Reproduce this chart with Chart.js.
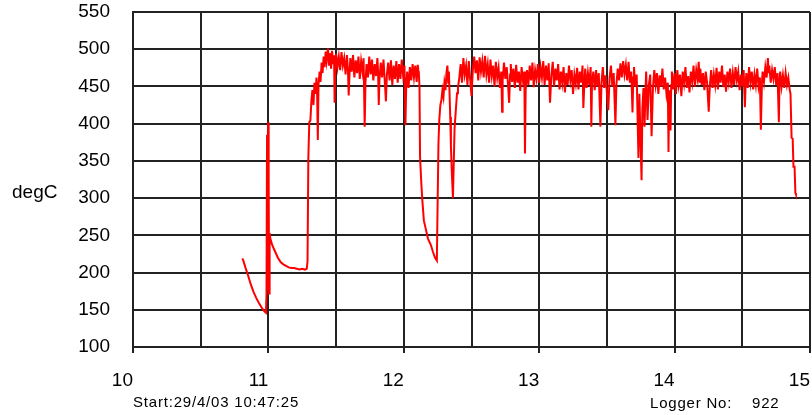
<!DOCTYPE html>
<html>
<head>
<meta charset="utf-8">
<script src="https://cdn.jsdelivr.net/npm/chart.js@4.4.1/dist/chart.umd.min.js"></script>
<style>
  html, body { margin: 0; padding: 0; background: #fff; }
  #wrap { position: relative; width: 812px; height: 415px; }
</style>
</head>
<body>
<div id="wrap"><canvas id="chart"></canvas></div>
<script>
// logger trace, time in hours vs temperature in degC
const hours = [
  10.807, 10.815, 10.83, 10.85, 10.87, 10.89, 10.91, 10.93, 10.95, 10.97,
  10.982, 10.986, 10.99, 10.994, 10.998, 11.002, 11.005, 11.009, 11.015, 11.03,
  11.05, 11.07, 11.09, 11.11, 11.13, 11.15, 11.17, 11.19, 11.21, 11.23,
  11.25, 11.27, 11.283, 11.289, 11.295, 11.302, 11.31, 11.318,
  11.325, 11.333, 11.34, 11.348, 11.355, 11.36, 11.365, 11.37, 11.378, 11.385,
  11.393, 11.40, 11.408, 11.415, 11.423, 11.43, 11.44, 11.448, 11.455, 11.463,
  11.47, 11.478, 11.485, 11.489, 11.493, 11.50, 11.51, 11.52, 11.53, 11.54,
  11.55, 11.56, 11.57, 11.58, 11.588, 11.593, 11.598, 11.605, 11.615, 11.625,
  11.635, 11.645, 11.655, 11.665, 11.675, 11.685, 11.695, 11.703, 11.711, 11.717,
  11.725, 11.735, 11.745, 11.755, 11.765, 11.775, 11.785, 11.795, 11.805, 11.81,
  11.815, 11.82, 11.83, 11.84, 11.85, 11.86, 11.868, 11.875, 11.885, 11.895,
  11.905, 11.915, 11.925, 11.935, 11.945, 11.955, 11.965, 11.975, 11.985, 11.995,
  12.005, 12.012, 12.018, 12.025, 12.035, 12.045, 12.055, 12.065, 12.075, 12.085,
  12.095, 12.103, 12.108,
  12.111, 12.116, 12.12, 12.13, 12.137, 12.148, 12.163, 12.178, 12.2, 12.215,
  12.23, 12.244, 12.256, 12.262, 12.27, 12.278, 12.285, 12.293, 12.30, 12.308,
  12.315, 12.322, 12.328, 12.333, 12.338, 12.343, 12.348, 12.355, 12.363, 12.368,
  12.375, 12.385, 12.393, 12.40,
  12.41, 12.42, 12.43, 12.44, 12.45, 12.46, 12.47, 12.48, 12.49, 12.50,
  12.51, 12.52, 12.53, 12.54, 12.55, 12.56, 12.57, 12.58, 12.59, 12.60,
  12.61, 12.62, 12.63, 12.64, 12.65, 12.66, 12.67, 12.68, 12.69, 12.70,
  12.71, 12.72, 12.726, 12.73, 12.74, 12.75, 12.76, 12.77, 12.778, 12.785,
  12.79, 12.80, 12.81, 12.82, 12.83, 12.84, 12.85, 12.86, 12.87, 12.88,
  12.89, 12.895, 12.90, 12.91, 12.92, 12.93, 12.94, 12.95, 12.96, 12.97,
  12.98, 12.99, 13.00, 13.01, 13.02, 13.03, 13.04, 13.05, 13.06, 13.07,
  13.08, 13.09, 13.10, 13.11, 13.12, 13.13, 13.14, 13.15, 13.16, 13.17,
  13.18, 13.19, 13.20, 13.21, 13.22, 13.23, 13.24, 13.25, 13.26, 13.27,
  13.28, 13.29, 13.30, 13.31, 13.32, 13.326, 13.335, 13.34, 13.35, 13.36,
  13.37, 13.38, 13.385, 13.39, 13.40, 13.41, 13.42, 13.43, 13.44, 13.452,
  13.46, 13.47, 13.48, 13.49, 13.50, 13.51, 13.52, 13.53, 13.54, 13.55,
  13.563, 13.57, 13.58, 13.59, 13.60, 13.61, 13.62, 13.63, 13.64, 13.65,
  13.66, 13.67, 13.68, 13.689, 13.695, 13.70, 13.71, 13.72, 13.733, 13.74,
  13.748, 13.756, 13.762, 13.77, 13.778, 13.785, 13.79, 13.80, 13.81, 13.82,
  13.83, 13.84, 13.85, 13.86, 13.87, 13.88, 13.89, 13.90, 13.91, 13.92,
  13.93, 13.94, 13.95, 13.955, 13.96, 13.97, 13.975, 13.98, 13.99, 14.00,
  14.01, 14.02, 14.03, 14.04, 14.05, 14.06, 14.07, 14.08, 14.09, 14.10,
  14.11, 14.12, 14.13, 14.14, 14.15, 14.16, 14.17, 14.178, 14.185, 14.19,
  14.20, 14.21, 14.22, 14.23, 14.24, 14.252, 14.26, 14.27, 14.28, 14.29,
  14.30, 14.31, 14.32, 14.33, 14.34, 14.35, 14.36, 14.37, 14.38, 14.39,
  14.40, 14.41, 14.42, 14.43, 14.44, 14.45, 14.46, 14.47, 14.48, 14.49,
  14.50, 14.51, 14.519, 14.525, 14.53, 14.54, 14.55, 14.56, 14.57, 14.58,
  14.59, 14.60, 14.61, 14.62, 14.63, 14.637, 14.645, 14.65, 14.66, 14.67,
  14.68, 14.689, 14.695, 14.70, 14.71, 14.72, 14.73, 14.74, 14.75, 14.76,
  14.77, 14.775, 14.78, 14.79, 14.80, 14.81, 14.82, 14.83, 14.84, 14.85,
  14.856, 14.864, 14.872, 14.878, 14.886, 14.892, 14.896
];

const degC = [
  219, 216, 207, 196, 184, 174, 166, 159, 153, 148,
  146, 172, 385, 176, 402, 328, 172, 253, 245, 236,
  228, 220, 214, 211, 209, 207, 206, 206, 205, 204,
  205, 204, 205, 215, 354, 402, 404, 432,
  445, 425, 455, 440, 462, 438, 378, 452, 470, 456,
  482, 468, 490, 476, 497, 484, 501, 478, 495, 474,
  498, 480, 492, 428, 470, 494, 476, 490, 472, 496,
  478, 488, 466, 492, 470, 438, 462, 488, 470, 492,
  462, 485, 468, 490, 460, 484, 470, 488, 396, 455,
  480, 462, 490, 466, 486, 458, 480, 464, 488, 470,
  425, 458, 482, 462, 486, 455, 430, 466, 482, 458,
  485, 452, 478, 460, 484, 455, 480, 460, 486, 465,
  478, 398, 452, 470, 448, 476, 458, 480, 462, 478,
  456, 479, 470,
  468, 449, 355, 318, 297, 270, 258, 246, 237, 228,
  220, 216, 374, 405, 425, 432, 445, 436, 455, 445,
  468, 478, 455, 470, 440, 409, 370, 333, 300, 340,
  394, 420, 441, 448,
  462, 480, 455, 488, 466, 478, 452, 484, 460, 437,
  472, 490, 468, 485, 458, 489, 470, 484, 462, 491,
  466, 480, 455, 486, 464, 478, 450, 483, 462, 475,
  448, 470, 416, 458, 482, 460, 476, 452, 428, 466,
  480, 456, 474, 448, 479, 455, 470, 444, 476, 458,
  470, 360, 445, 472, 452, 478, 458, 482, 449, 472,
  460, 480, 455, 476, 462, 484, 452, 478, 458, 481,
  428, 465, 483, 450, 474, 458, 480, 446, 470, 455,
  476, 442, 468, 452, 478, 458, 472, 440, 466, 454,
  475, 446, 470, 455, 478, 421, 460, 474, 448, 468,
  452, 476, 396, 455, 470, 445, 472, 450, 468, 396,
  455, 476, 448, 465, 442, 418, 462, 478, 450, 468,
  398, 452, 474, 458, 481, 462, 484, 466, 479, 458,
  483, 455, 470, 415, 462, 476, 450, 466, 354, 440,
  380, 324, 420, 448, 396, 445, 470, 405, 452, 466,
  383, 448, 472, 452, 468, 440, 465, 450, 474, 446,
  462, 440, 455, 362, 445, 391, 452, 470, 446, 468,
  440, 472, 452, 466, 437, 470, 455, 476, 448, 464,
  442, 470, 456, 478, 450, 472, 460, 483, 455, 474,
  452, 468, 445, 470, 455, 416, 450, 472, 448, 466,
  452, 475, 446, 470, 455, 478, 449, 466, 443, 470,
  456, 474, 448, 468, 452, 476, 458, 470, 445, 466,
  450, 472, 422, 455, 468, 448, 476, 455, 470, 446,
  466, 452, 474, 450, 462, 392, 455, 470, 456, 476,
  462, 488, 468, 478, 455, 472, 460, 476, 452, 468,
  402, 458, 470, 450, 465, 448, 468, 452, 462, 446,
  440, 381, 380, 342, 342, 307, 305
];

const xTicks = [10, 11, 12, 13, 14, 15];
const yTicks = [100, 150, 200, 250, 300, 350, 400, 450, 500, 550];
const yTitle = 'degC';
const startText = 'Start:29/4/03 10:47:25';
const loggerLabel = 'Logger No:';
const loggerNo = '922';

const FONT = "'Liberation Sans', Arial, sans-serif";
const GRID = '#222';

const points = hours.map((h, i) => ({ x: h, y: degC[i] }));

// extra captions drawn straight on the canvas
const captions = {
  id: 'captions',
  afterDraw(chart) {
    const ctx = chart.ctx;
    ctx.save();
    ctx.fillStyle = '#000';
    ctx.textBaseline = 'middle';
    ctx.textAlign = 'left';
    ctx.font = '19px ' + FONT;
    ctx.fillText(yTitle, 12, 193);
    ctx.font = '15px ' + FONT;
    ctx.letterSpacing = '0.8px';
    ctx.fillText(startText, 133, 403);
    ctx.fillText(loggerLabel, 650, 404);
    ctx.fillText(loggerNo, 752, 404);
    ctx.restore();
  }
};

new Chart(document.getElementById('chart'), {
  type: 'line',
  data: {
    datasets: [{
      data: points,
      borderColor: '#ff0000',
      borderWidth: 2,
      pointRadius: 0,
      tension: 0,
      fill: false
    }]
  },
  options: {
    responsive: true,
    maintainAspectRatio: false,
    animation: false,
    events: [],
    layout: { padding: { top: 12, right: 2, left: 0, bottom: 0 } },
    plugins: {
      legend: { display: false },
      tooltip: { enabled: false }
    },
    scales: {
      x: {
        type: 'linear',
        min: 10,
        max: 15,
        afterFit: s => { s.height = 68; s.paddingLeft = 0; s.paddingRight = 0; },
        border: { color: GRID, width: 2 },
        grid: {
          color: GRID,
          lineWidth: 2,
          tickLength: 6,
          tickColor: c => (c.tick && xTicks.includes(c.tick.value)) ? GRID : 'rgba(0,0,0,0)'
        },
        ticks: {
          stepSize: 0.5,
          autoSkip: false,
          maxRotation: 0,
          align: 'end',
          padding: 16,
          color: '#000',
          font: { family: FONT, size: 19 },
          callback: v => xTicks.includes(v) ? String(v) : ''
        }
      },
      y: {
        min: 100,
        max: 550,
        afterFit: s => { s.width = 133; s.paddingTop = 0; s.paddingBottom = 0; },
        border: { color: GRID, width: 2 },
        grid: { color: GRID, lineWidth: 2, drawTicks: false },
        ticks: {
          stepSize: 50,
          padding: 23,
          color: '#000',
          font: { family: FONT, size: 19 },
          callback: v => yTicks.includes(v) ? String(v) : ''
        }
      }
    }
  },
  plugins: [captions]
});
</script>
</body>
</html>
